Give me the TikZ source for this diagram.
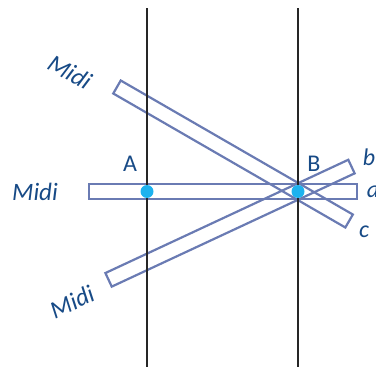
\documentclass[tikz,border=0pt]{standalone}
\usepackage{fontspec}
\setmainfont{Carlito}
\definecolor{barcol}{HTML}{6A7BB3}
\definecolor{txtcol}{HTML}{174A86}
\definecolor{dotcol}{HTML}{1DB2EE}
\tikzset{
  barbox/.style={draw=barcol, line width=2.2pt},
  vline/.style={draw=black!85, line width=2.5pt},
  dotmark/.style={fill=dotcol},
  ptlabel/.style={text=txtcol, font=\fontsize{24}{26}\selectfont, inner sep=0pt},
  endlabel/.style={text=txtcol, font=\fontsize{24}{26}\selectfont\itshape, inner sep=0pt},
  midilabel/.style={text=txtcol, font=\fontsize{25}{27}\selectfont\itshape, inner sep=0pt}
}
\begin{document}
\begin{tikzpicture}[x=1pt,y=-1pt]
\useasboundingbox (0,0) rectangle (376,367);
\coordinate (A) at (147,191.5);
\coordinate (B) at (298,191.5);
\coordinate (L1t) at (147,8);
\coordinate (L1b) at (147,367);
\coordinate (L2t) at (298,8);
\coordinate (L2b) at (298,367);
% bars
\draw[barbox] (89,184) rectangle (357,199);
\draw[barbox, rotate around={-30:(B)}] (89,184) rectangle (357,199);
\draw[barbox, rotate around={25:(B)}] (89,184) rectangle (357,199);
% vertical lines
\draw[vline] (L1t) -- (L1b);
\draw[vline] (L2t) -- (L2b);
% dots
\fill[dotmark] (A) circle (6.5pt);
\fill[dotmark] (B) circle (6.5pt);
% labels
\node[ptlabel] (lA) at (130,164) {A};
\node[ptlabel] (lB) at (314,164) {B};
\node[endlabel] (lb) at (369,157) {b};
\node[endlabel] (la) at (373,192) {a};
\node[endlabel] (lc) at (364,232) {c};
\node[midilabel] (m1) at (35,192) {Midi};
\node[midilabel, rotate=-30] (m2) at (70,72) {Midi};
\node[midilabel, rotate=25] (m3) at (72,302) {Midi};
\end{tikzpicture}
\end{document}
